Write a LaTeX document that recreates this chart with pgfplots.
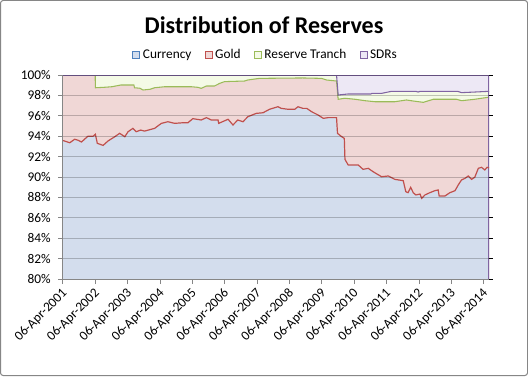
\documentclass[border=0pt]{standalone}
\usepackage{pgfplots}
\pgfplotsset{compat=1.18}
\usepackage{pgfplotstable}
\usepackage{fontspec}
\setmainfont{Carlito}[Ligatures=NoCommon]
\definecolor{curfill}{RGB}{211,221,237}
\definecolor{goldfill}{RGB}{240,215,214}
\definecolor{trfill}{RGB}{244,250,230}
\definecolor{sdrfill}{RGB}{237,232,245}
\definecolor{curline}{RGB}{79,129,189}
\definecolor{goldline}{RGB}{192,80,77}
\definecolor{trline}{RGB}{155,187,89}
\definecolor{sdrline}{RGB}{128,100,162}
\definecolor{axc}{RGB}{134,134,134}

% top of Currency share (cumulative %)
\pgfplotstableread{
x c
2001.00 93.55
2001.02 93.56
2001.12 93.45
2001.21 93.36
2001.36 93.70
2001.47 93.60
2001.57 93.43
2001.77 94.00
2001.93 94.00
2002.00 94.19
2002.06 93.30
2002.24 93.10
2002.39 93.53
2002.60 93.95
2002.75 94.28
2002.91 93.95
2003.01 94.44
2003.16 94.77
2003.26 94.44
2003.40 94.60
2003.52 94.50
2003.83 94.77
2004.04 95.26
2004.24 95.42
2004.45 95.26
2004.71 95.32
2004.86 95.32
2005.01 95.72
2005.27 95.59
2005.43 95.82
2005.58 95.59
2005.79 95.59
2005.81 95.26
2006.10 95.66
2006.25 95.10
2006.40 95.59
2006.56 95.42
2006.71 95.91
2006.97 96.24
2007.18 96.30
2007.38 96.64
2007.64 96.89
2007.74 96.73
2007.95 96.64
2008.16 96.64
2008.26 96.89
2008.41 96.73
2008.53 96.73
2008.68 96.40
2008.88 96.08
2009.04 95.75
2009.19 95.82
2009.45 95.82
2009.48 94.28
2009.61 93.95
2009.69 93.79
2009.71 91.73
2009.81 91.18
2010.12 91.18
2010.27 90.75
2010.43 90.85
2010.58 90.52
2010.84 90.03
2011.05 90.10
2011.25 89.77
2011.51 89.64
2011.59 88.56
2011.66 88.46
2011.74 88.99
2011.82 88.46
2011.90 88.24
2012.03 88.33
2012.08 87.91
2012.18 88.24
2012.33 88.46
2012.49 88.66
2012.59 88.73
2012.62 88.14
2012.80 88.14
2012.95 88.46
2013.11 88.66
2013.21 89.22
2013.31 89.71
2013.42 89.87
2013.52 90.10
2013.62 89.77
2013.72 89.97
2013.83 90.85
2013.93 90.95
2014.03 90.69
2014.10 90.95
2014.16 90.90
}\curtab

% top of Gold (Currency + Gold)
\pgfplotstableread{
x g
2001.00 100
2001.995 100
2002.00 98.75
2002.30 98.80
2002.51 98.85
2002.79 99.02
2003.19 99.02
2003.21 98.75
2003.38 98.70
2003.47 98.53
2003.69 98.60
2003.83 98.75
2004.14 98.85
2004.55 98.85
2004.96 98.85
2005.17 98.79
2005.27 98.69
2005.43 98.92
2005.68 98.92
2005.84 99.18
2005.99 99.35
2006.61 99.41
2006.71 99.51
2007.07 99.67
2008.41 99.71
2008.99 99.67
2009.14 99.51
2009.45 99.41
2009.50 97.62
2009.71 97.72
2010.02 97.62
2010.33 97.48
2010.64 97.38
2011.25 97.38
2011.61 97.55
2011.82 97.45
2012.13 97.32
2012.44 97.62
2013.16 97.62
2013.31 97.48
2013.72 97.62
2013.93 97.72
2014.13 97.81
2014.16 97.85
}\goldtab

% top of Reserve Tranch (Currency + Gold + Reserve Tranch)
\pgfplotstableread{
x t
2001.00 100
2009.45 100
2009.50 98.04
2009.81 98.14
2010.51 98.14
2010.54 98.20
2010.84 98.20
2011.15 98.40
2011.90 98.40
2011.97 98.33
2012.03 98.40
2013.19 98.40
2013.31 98.27
2013.72 98.33
2014.16 98.40
}\trtab

\begin{document}
\begin{tikzpicture}
\useasboundingbox (0,0) rectangle (396pt,282pt);
\draw[axc, line width=0.75pt, rounded corners=2pt] (0.375pt,0.375pt) rectangle (395.625pt,281.625pt);
\node[font=\bfseries\fontsize{18}{21}\selectfont, anchor=base] at (198pt,257.25pt) {Distribution of Reserves};
\begin{axis}[
  at={(47.25pt,72.75pt)}, anchor=south west,
  scale only axis, width=319.5pt, height=153pt,
  xmin=2001, xmax=2014.16, ymin=80, ymax=100,
  axis on top,
  axis x line*=bottom, axis y line*=left,
  axis line style={axc, line width=0.75pt},
  tick style={axc, line width=0.75pt},
  tick align=outside, major tick length=3.75pt,
  xtick={2001,2002,...,2014},
  xticklabels={06-Apr-2001,06-Apr-2002,06-Apr-2003,06-Apr-2004,06-Apr-2005,06-Apr-2006,06-Apr-2007,06-Apr-2008,06-Apr-2009,06-Apr-2010,06-Apr-2011,06-Apr-2012,06-Apr-2013,06-Apr-2014},
  xticklabel style={xshift=4pt, yshift=-3pt, rotate=45, anchor=east, font=\fontsize{10}{12}\selectfont},
  ytick={80,82,...,100},
  yticklabels={80\%,82\%,84\%,86\%,88\%,90\%,92\%,94\%,96\%,98\%,100\%},
  yticklabel style={font=\fontsize{10}{12}\selectfont, xshift=-2pt},
  ymajorgrids, grid style={black, opacity=0.22, line width=0.75pt},
  legend style={draw=none, fill=none, legend columns=4,
    at={(axis description cs:0.4765,1.098)}, anchor=center,
    font=\fontsize{10}{12}\selectfont,
    /tikz/every even column/.append style={column sep=8pt}},
]
\addlegendimage{legend image code/.code={\draw[fill=curfill,draw=curline,line width=0.6pt] (0pt,-2.6pt) rectangle (5.2pt,2.6pt);}}
\addlegendentry{Currency}
\addlegendimage{legend image code/.code={\draw[fill=goldfill,draw=goldline,line width=0.6pt] (0pt,-2.6pt) rectangle (5.2pt,2.6pt);}}
\addlegendentry{Gold}
\addlegendimage{legend image code/.code={\draw[fill=trfill,draw=trline,line width=0.6pt] (0pt,-2.6pt) rectangle (5.2pt,2.6pt);}}
\addlegendentry{Reserve Tranch}
\addlegendimage{legend image code/.code={\draw[fill=sdrfill,draw=sdrline,line width=0.6pt] (0pt,-2.6pt) rectangle (5.2pt,2.6pt);}}
\addlegendentry{SDRs}

\addplot[fill=sdrfill, draw=none, forget plot] coordinates {(2001,100) (2014.16,100)} \closedcycle;
\addplot[fill=trfill, draw=none, forget plot] table[x=x,y=t] {\trtab} \closedcycle;
\addplot[fill=goldfill, draw=none, forget plot] table[x=x,y=g] {\goldtab} \closedcycle;
\addplot[fill=curfill, draw=none, forget plot] table[x=x,y=c] {\curtab} \closedcycle;

\addplot[trline, line width=0.8pt, forget plot] table[x=x,y=g] {\goldtab};
\addplot[sdrline, line width=0.8pt, forget plot] table[x=x,y=t] {\trtab};
\addplot[sdrline, line width=0.9pt, forget plot] coordinates {(2001,100) (2014.16,100) (2014.16,80)};
\addplot[goldline, line width=0.9pt, forget plot] table[x=x,y=c] {\curtab};
\end{axis}
\begin{axis}[
  at={(47.25pt,72.75pt)}, anchor=south west,
  scale only axis, width=319.5pt, height=153pt,
  xmin=2001, xmax=2014.16, ymin=80, ymax=100,
  hide x axis, axis y line*=right,
  y axis line style={draw=none},
  ytick={80,82,...,100}, yticklabels={},
  tick align=outside, major tick length=3pt,
  tick style={black, line width=0.75pt},
]
\addplot[draw=none] coordinates {(2001,90)};
\end{axis}
\end{tikzpicture}
\end{document}
